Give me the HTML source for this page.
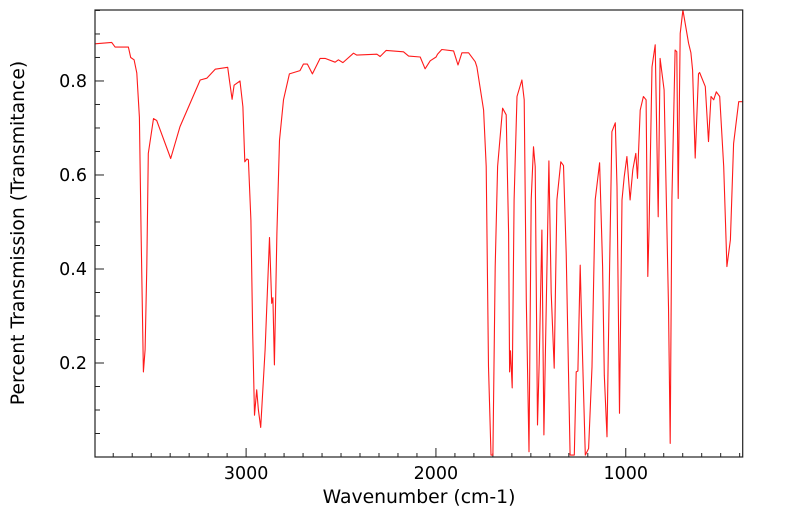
<!DOCTYPE html>
<html><head><meta charset="utf-8"><style>
body{margin:0;background:#fff}
svg{display:block;font-family:"DejaVu Sans","Liberation Sans",sans-serif}
</style></head><body>
<svg id="chart" width="799" height="516">
<g id="ticks"></g>
<polyline id="spec" fill="none" stroke="#ff1a1a" stroke-width="1.1" stroke-linejoin="round"/>
<rect x="95" y="10" width="647.7" height="447" fill="none" stroke="#222" stroke-width="1.2"/>
<text x="419" y="503" text-anchor="middle" font-size="18.8">Wavenumber (cm-1)</text>
<text transform="translate(24,233) rotate(-90)" text-anchor="middle" font-size="18.8">Percent Transmission (Transmitance)</text>
</svg>
<script>
const wavenumbers=[3796,3708,3690,3620,3608,3590,3576,3562,3553,3541,3532,3523,3515,3488,3471,3397,3348,3242,3207,3163,3097,3088,3074,3063,3032,3017,3007,2996,2988,2975,2965,2956,2944,2935,2923,2900,2877,2865,2859,2851,2838,2824,2803,2772,2716,2698,2677,2651,2610,2584,2531,2514,2490,2434,2417,2311,2294,2262,2171,2144,2083,2057,2030,1999,1992,1969,1907,1884,1863,1828,1793,1784,1749,1735,1723,1710,1700,1688,1675,1649,1630,1617,1612,1607,1598,1588,1573,1547,1535,1524,1510,1498,1486,1477,1465,1456,1442,1431,1405,1393,1377,1363,1342,1328,1314,1293,1271,1261,1252,1240,1231,1213,1196,1178,1161,1138,1122,1113,1099,1085,1073,1055,1046,1033,1020,1008,994,977,963,947,938,924,907,893,884,877,862,845,829,819,798,775,766,757,740,731,724,713,699,669,657,648,634,617,611,581,564,551,537,523,505,484,467,449,432,405,382];
const transmittance=[.879,.882,.872,.872,.850,.845,.817,.723,.476,.181,.228,.405,.646,.720,.716,.635,.703,.802,.806,.825,.829,.802,.761,.791,.800,.745,.628,.634,.632,.504,.263,.089,.143,.100,.063,.228,.467,.327,.339,.196,.476,.674,.760,.815,.822,.836,.836,.815,.848,.848,.840,.845,.839,.859,.855,.857,.852,.865,.862,.853,.851,.826,.843,.851,.857,.867,.864,.834,.860,.860,.841,.830,.738,.618,.192,.004,.004,.405,.618,.742,.728,.476,.181,.226,.147,.547,.767,.802,.760,.334,.011,.547,.660,.618,.068,.200,.483,.047,.630,.349,.189,.547,.628,.620,.433,.004,.004,.181,.183,.408,.263,.004,.018,.192,.547,.626,.405,.174,.043,.405,.692,.711,.575,.093,.547,.596,.639,.547,.611,.646,.593,.738,.767,.760,.384,.490,.830,.877,.511,.848,.781,.320,.029,.547,.866,.862,.550,.901,.951,.880,.860,.823,.636,.815,.818,.788,.671,.767,.760,.777,.767,.618,.405,.462,.667,.756,.756];
const xMajor=[3000,2000,1000];
const xMajorLabels=["3000","2000","1000"];
const yMajor=[0.2,0.4,0.6,0.8];
const yMajorLabels=["0.2","0.4","0.6","0.8"];
const X0=95,X1=742.7,Y0=457,Y1=10,WN_L=3796,WN_R=384,T_MIN=0,T_MAX=0.951;
function sx(w){return X0+(WN_L-w)*(X1-X0)/(WN_L-WN_R);}
function sy(t){return Y0-(t-T_MIN)*(Y0-Y1)/(T_MAX-T_MIN);}
const NS='http://www.w3.org/2000/svg';
document.getElementById('spec').setAttribute('points',wavenumbers.map((w,i)=>sx(w).toFixed(1)+','+sy(transmittance[i]).toFixed(1)).join(' '));
const g=document.getElementById('ticks');
function line(x1,y1,x2,y2,name){const l=document.createElementNS(NS,'line');
l.setAttribute('x1',x1);l.setAttribute('y1',y1);l.setAttribute('x2',x2);l.setAttribute('y2',y2);
l.setAttribute('stroke','#222');l.setAttribute('stroke-width','1');


g.appendChild(l);}
function text(x,y,s,anchor,name){const t=document.createElementNS(NS,'text');
t.setAttribute('x',x);t.setAttribute('y',y);t.setAttribute('text-anchor',anchor);t.setAttribute('font-size','17.5');t.textContent=s;


g.appendChild(t);}
for(let w=3700;w>=400;w-=100){const major=w%1000===0;const x=sx(w);line(x,Y0,x,Y0-(major?9:4),major?'x-major-tick':'x-minor-tick');}
xMajor.forEach((w,i)=>text(sx(w),479,xMajorLabels[i],'middle','x-tick-label'));
for(let k=1;k<=19;k++){const t=k*0.05;const major=k%4===0;const y=sy(t);line(X0,y,X0+(major?9:5),y,major?'y-major-tick':'y-minor-tick');}
yMajor.forEach((t,i)=>text(87,sy(t)+6,yMajorLabels[i],'end','y-tick-label'));
</script>
</body></html>
